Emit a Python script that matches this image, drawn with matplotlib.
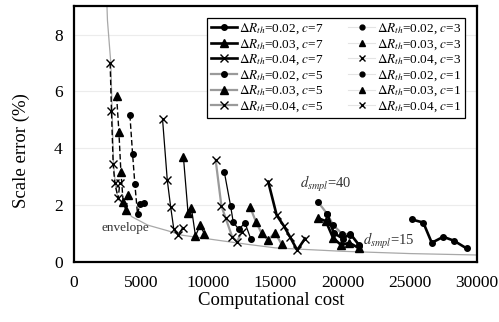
import matplotlib
matplotlib.use("Agg")
import matplotlib.pyplot as plt
from matplotlib.lines import Line2D

plt.rcParams['font.family'] = ['Liberation Serif', 'DejaVu Serif']
plt.rcParams['mathtext.fontset'] = 'stix'

# ---------------------------
# Data
# ---------------------------
# lower envelope of all runs
env_cost = [2450, 2500, 2650, 2750, 2850, 2950, 3100, 3300, 3700, 3900, 4300,
            5500, 7000, 8000, 9500, 11000, 13000, 15000, 17000, 20000, 25000, 30000]
env_err = [9.2, 8.5, 7.6, 7.0, 5.3, 3.45, 2.7, 2.2, 2.05, 1.85, 1.6,
           1.3, 1.1, 0.95, 0.85, 0.75, 0.62, 0.5, 0.45, 0.38, 0.3, 0.25]

# c = 1 (dashed)
c1_002_cost = [4170, 4370, 4540, 4740, 4910, 5210]
c1_002_err = [5.17, 3.80, 2.74, 1.68, 2.04, 2.09]
c1_003_cost = [3180, 3350, 3500, 3670, 3870, 4040]
c1_003_err = [5.85, 4.59, 3.18, 2.12, 1.83, 2.36]
c1_004_cost = [2700, 2800, 2925, 3050, 3300, 3420]
c1_004_err = [7.00, 5.30, 3.45, 2.77, 2.24, 2.78]

# c = 3 (thin black)
c3_002_cost = [11190, 11665, 11860, 12280, 12730, 13180]
c3_002_err = [3.18, 1.97, 1.40, 1.15, 1.38, 0.80]
c3_003_cost = [8150, 8500, 8750, 9050, 9400, 9700]
c3_003_err = [3.71, 1.71, 1.89, 0.92, 1.30, 1.00]
c3_004_cost = [6600, 6950, 7200, 7440, 7770, 8090]
c3_004_err = [5.02, 2.89, 1.95, 1.15, 0.95, 1.21]

# c = 5 (grey)
c5_002_cost = [18190, 18860, 19300, 19950, 20550, 21250]
c5_002_err = [2.10, 1.69, 1.30, 1.00, 0.97, 0.60]
c5_003_cost = [13100, 13550, 13970, 14460, 14960, 15460]
c5_003_err = [1.95, 1.42, 1.01, 0.77, 1.04, 0.63]
c5_004_cost = [10550, 10980, 11300, 11780, 12150, 12480]
c5_004_err = [3.59, 1.97, 1.54, 0.89, 0.72, 1.07]

# c = 7 (thick black)
c7_002_cost = [18860, 19330, 20000, 20580, 21250]
c7_002_err = [1.69, 1.03, 0.83, 0.99, 0.58]
c7_003_cost = [18200, 18750, 19280, 19880, 20500, 21250]
c7_003_err = [1.54, 1.44, 0.86, 0.60, 0.68, 0.48]
c7_004_cost = [14460, 15090, 15630, 16080, 16620, 17200]
c7_004_err = [2.83, 1.65, 1.27, 0.89, 0.42, 0.83]
c7b_cost = [25140, 26000, 26630, 27490, 28290, 29230]
c7b_err = [1.50, 1.39, 0.68, 0.89, 0.75, 0.48]

dr_labels = ['0.02', '0.03', '0.04']
markers = ['o', '^', 'x']

fig = plt.figure(figsize=(4.99, 3.22), dpi=100)
ax = fig.add_axes([0.148, 0.186, 0.808, 0.795])

ax.plot(env_cost, env_err, color='#a8a8a8', lw=0.9, zorder=1)

def draw(xs, ys, m, **kw):
    ms = {'o': 4, '^': 5.5, 'x': 5.5}[m]
    return ax.plot(xs, ys, marker=m, ms=ms, mfc='black', mec='black', mew=1.0, **kw)[0]

c1 = [(c1_002_cost, c1_002_err), (c1_003_cost, c1_003_err), (c1_004_cost, c1_004_err)]
c3 = [(c3_002_cost, c3_002_err), (c3_003_cost, c3_003_err), (c3_004_cost, c3_004_err)]
c5 = [(c5_002_cost, c5_002_err), (c5_003_cost, c5_003_err), (c5_004_cost, c5_004_err)]
c7 = [(c7_002_cost, c7_002_err), (c7_003_cost, c7_003_err), (c7_004_cost, c7_004_err)]

h7, h5 = [], []
for (xs, ys), m in zip(c1, markers):
    draw(xs, ys, m, color='black', lw=1.0, ls=(0, (4, 2)), zorder=3)
for (xs, ys), m in zip(c3, markers):
    draw(xs, ys, m, color='black', lw=0.9, zorder=3)
for (xs, ys), m in zip(c5, markers):
    h5.append(draw(xs, ys, m, color='#9a9a9a', lw=1.6, zorder=2))
for (xs, ys), m in zip(c7, markers):
    h7.append(draw(xs, ys, m, color='black', lw=1.9, zorder=4))
draw(c7b_cost, c7b_err, 'o', color='black', lw=1.9, zorder=4)

# legend: column 2 shows markers only
h31 = []
for m in markers * 2:
    ms = {'o': 3.5, '^': 5, 'x': 5}[m]
    h31.append(Line2D([], [], color='#e4e4e4', lw=0.8, marker=m, ms=ms,
                      mfc='black', mec='black', mew=1.0))
labels = [r'$\Delta R_{th}$=%s, $c$=7' % d for d in dr_labels] + \
         [r'$\Delta R_{th}$=%s, $c$=5' % d for d in dr_labels] + \
         [r'$\Delta R_{th}$=%s, $c$=3' % d for d in dr_labels] + \
         [r'$\Delta R_{th}$=%s, $c$=1' % d for d in dr_labels]
leg = ax.legend(h7 + h5 + h31, labels, ncol=2, loc='upper right',
                bbox_to_anchor=(0.97, 0.955), fontsize=9.5, frameon=True,
                fancybox=False, edgecolor='black', framealpha=1,
                handlelength=2.0, handletextpad=0.15, columnspacing=1.9,
                labelspacing=0.08, borderpad=0.3, borderaxespad=0)
leg.get_frame().set_linewidth(0.9)

ax.text(3800, 1.2, 'envelope', fontsize=9.5, ha='center', va='center', color='#333333')
ax.text(16820, 2.6, r'$d_{smpl}$=40', fontsize=10.5, ha='left', va='baseline', color='#333333')
ax.text(21500, 0.6, r'$d_{smpl}$=15', fontsize=10.5, ha='left', va='baseline', color='#333333')

ax.set_xlim(0, 30000)
ax.set_ylim(0, 9)
ax.set_xticks([0, 5000, 10000, 15000, 20000, 25000, 30000])
ax.set_yticks([0, 2, 4, 6, 8])
ax.yaxis.grid(True, color='#ececec', lw=0.8)
ax.set_axisbelow(True)
ax.tick_params(length=0, labelsize=12.5)
ax.tick_params(axis='x', pad=9)
ax.tick_params(axis='y', pad=8)
for s in ax.spines.values():
    s.set_linewidth(1.6)

ax.set_xlabel('Computational cost', fontsize=13.5)
ax.set_ylabel('Scale error (%)', fontsize=13.5)
ax.xaxis.set_label_coords(0.49, -0.118)
ax.yaxis.set_label_coords(-0.109, 0.434)

fig.savefig('out.png', dpi=100)
